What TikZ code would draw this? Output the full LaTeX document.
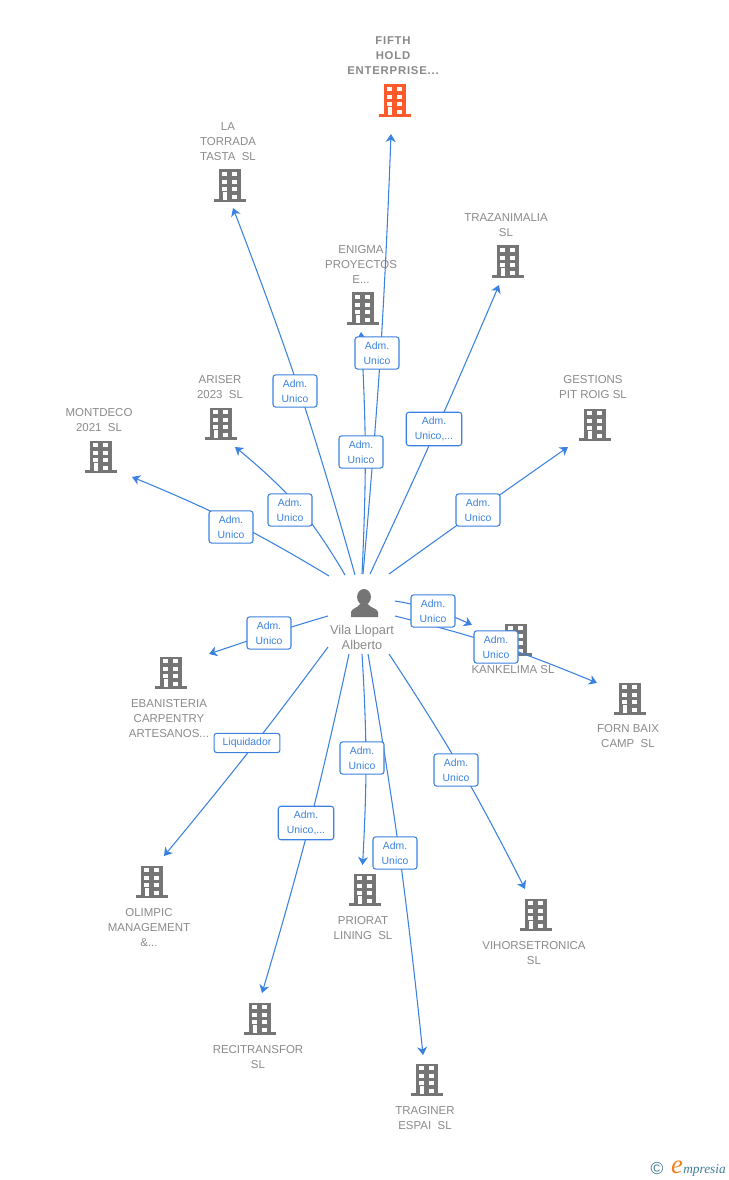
\documentclass[tikz,border=0pt]{standalone}
\usepackage{fontspec}
\setmainfont{Liberation Sans}
\newfontfamily\topfont[LetterSpace=7]{Liberation Sans}
\newfontfamily\logofont{Liberation Serif}
\usetikzlibrary{arrows.meta}
\definecolor{linkblue}{HTML}{3B82E0}
\definecolor{bldgray}{HTML}{757575}
\definecolor{txtgray}{HTML}{8A8A8A}
\definecolor{bldorange}{HTML}{FF5A2B}
\definecolor{logoteal}{HTML}{3F7C96}
\definecolor{logoorange}{HTML}{F08020}
\tikzset{
	link/.style = {linkblue, line width = 0.8pt, -{Stealth[length = 6pt, width = 7.5pt, inset = 1.8pt]}},
	role/.style = {draw = linkblue, line width = 0.8pt, rounded corners = 2pt, fill = white, text = linkblue, align = center,
		font = \fontsize{7.8}{11.25}\selectfont, inner xsep = 6.5pt, inner ysep = 3.6pt, minimum width = 33pt},
	firm/.style = {text = txtgray, align = center, font = \fontsize{8.6}{11.25}\selectfont, inner sep = 0pt},
	body/.style = {minimum width = 17pt, minimum height = 24pt, inner sep = 0pt}
}
\newcommand{\building}[4][bldgray]{
	\node[body, fill = #1] (#2) at (#3,#4) {};
	\fill[#1] ([xshift = -3.2pt]#2.south west) rectangle ([xshift = 3.2pt, yshift = 2pt]#2.south east);
	\foreach \r in {0,1,2,3} {
		\fill[white] ([xshift = -3.2pt, yshift = {-2.2pt - \r*5.6pt}]#2.north east) rectangle +(-3.8pt,-3pt);
	}
	\foreach \r in {0,1,2} {
		\fill[white] ([xshift = 3pt, yshift = {-2.2pt - \r*5.6pt}]#2.north west) rectangle +(3.8pt,-3pt);
	}
	\fill[white] ([xshift = 3.2pt, yshift = 1.5pt]#2.south west) rectangle +(3.4pt,5.5pt);
}
\begin{document}
\begin{tikzpicture}[x = 0.75pt, y = -0.75pt]
	\useasboundingbox (0,0) rectangle (728,1180);
	% companies
	\building[bldorange]{fifth}{395}{100.5}
	\foreach \n/\x/\y in {torrada/230/185.5, enigma/363/308.5, trazan/508/261.5, gestions/595/424.5, ariser/221/423.5, montdeco/101/456.5,
		kankelima/516/639.5, forn/630/698.5, ebanisteria/171/672.5, olimpic/152/881.5, priorat/365/889.5, vihorse/536/914.5,
		recitransfor/260/1018.5, traginer/427/1079.5} {
		\building{\n}{\x}{\y}
	}
	\node[firm, font = \topfont\bfseries\fontsize{8.5}{11.25}\selectfont] (fifthlab) at (393,56) {FIFTH\\HOLD\\ENTERPRISE...};
	\foreach \n/\x/\y/\t in {torradalab/228/142/{LA\\TORRADA\\TASTA\ \ SL}, enigmalab/361/264/{ENIGMA\\PROYECTOS\\E...},
		trazanlab/506/225/{TRAZANIMALIA\\SL}, gestionslab/593/387/{GESTIONS\\PIT ROIG SL}, ariserlab/220/387/{ARISER\\2023\ \ SL},
		montdecolab/99/420/{MONTDECO\\2021\ \ SL}, kankelimalab/513/670/{KANKELIMA SL}, fornlab/628/736/{FORN BAIX\\CAMP\ \ SL},
		ebanisterialab/169/719/{EBANISTERIA\\CARPENTRY\\ARTESANOS...}, olimpiclab/149/928/{OLIMPIC\\MANAGEMENT\\\&...},
		prioratlab/363/928/{PRIORAT\\LINING\ \ SL}, vihorselab/534/953/{VIHORSETRONICA\\SL},
		recitransforlab/258/1057/{RECITRANSFOR\\SL}, traginerlab/425/1118/{TRAGINER\\ESPAI\ \ SL}} {
		\node[firm] (\n) at (\x,\y) {\t};
	}
	% person
	\fill[bldgray] (364,597) ellipse (5.2pt and 6pt);
	\fill[bldgray] (351,617) -- (351,612) .. controls (352,608) and (358,608) .. (360,604) -- (368,604)
		.. controls (370,608) and (377,608) .. (378,612) -- (378,617) -- cycle;
	\node[firm, font = \fontsize{9.6}{11.25}\selectfont] (vila) at (362,637.5) {Vila Llopart\\Alberto};
	% connectors, each through a point beside its role box
	\foreach \b/\sx/\sy/\vx/\vy/\ex/\ey in {
		rfifth/363/574/380.5/353/391/134,
		renigma/362/574/365.3/452/361/332,
		rtorrada/355/575/299.5/391/233/208,
		rtrazan/370/574/436.5/429/499/285,
		rgestions/389/574/478.5/510/568/447,
		rariser/345/575/297/505/235/447,
		rmontdeco/329/576/233/522/132/477,
		rebanisteria/328/616/269/634/209/654,
		rolimpic/328/647/248/752.5/164/856,
		rrecitransfor/349/654/309.5/824/262/993,
		rpriorat/362/654/366/760/362.5/865,
		rtraginer/368/654/399.5/854/423/1055,
		rvihorse/389/654/461/769/525/889,
		rkankelima/395/601/435/610/472/625,
		rforn/395/616/498/645/597/683} {
		\coordinate (\b s) at (\sx,\sy);
		\coordinate (\b e) at (\ex,\ey);
		\coordinate (\b c) at (\vx,\vy);
		\draw[link] plot[smooth, tension = 0.8] coordinates {(\b s) (\b c) (\b e)};
	}
	\foreach \b/\bx/\by/\t in {
		rfifth/377/353/{Adm.\\Unico},
		renigma/361/452/{Adm.\\Unico},
		rtorrada/295/391/{Adm.\\Unico},
		rtrazan/434/429/{Adm.\\Unico,...},
		rgestions/478/510/{Adm.\\Unico},
		rariser/290/510/{Adm.\\Unico},
		rmontdeco/231/527/{Adm.\\Unico},
		rebanisteria/269/633/{Adm.\\Unico},
		rolimpic/247/743/{Liquidador},
		rrecitransfor/306/823/{Adm.\\Unico,...},
		rpriorat/362/758/{Adm.\\Unico},
		rtraginer/395/853/{Adm.\\Unico},
		rvihorse/456/770/{Adm.\\Unico},
		rkankelima/433/611/{Adm.\\Unico},
		rforn/496/647/{Adm.\\Unico}} {
		\node[role] (\b) at (\bx,\by) {\t};
	}
	% logo
	\node[text = logoteal, font = \fontsize{13}{14}\selectfont, inner sep = 0pt] (logoc) at (657,1169) {©};
	\node[text = logoorange, font = \logofont\itshape\fontsize{20}{20}\selectfont, inner sep = 0pt] (logoe) at (677,1167) {e};
	\node[text = logoteal, font = \logofont\itshape\fontsize{10}{12}\selectfont, inner sep = 0pt, anchor = west] (logot) at (683,1170) {mpresia};
\end{tikzpicture}
\end{document}
